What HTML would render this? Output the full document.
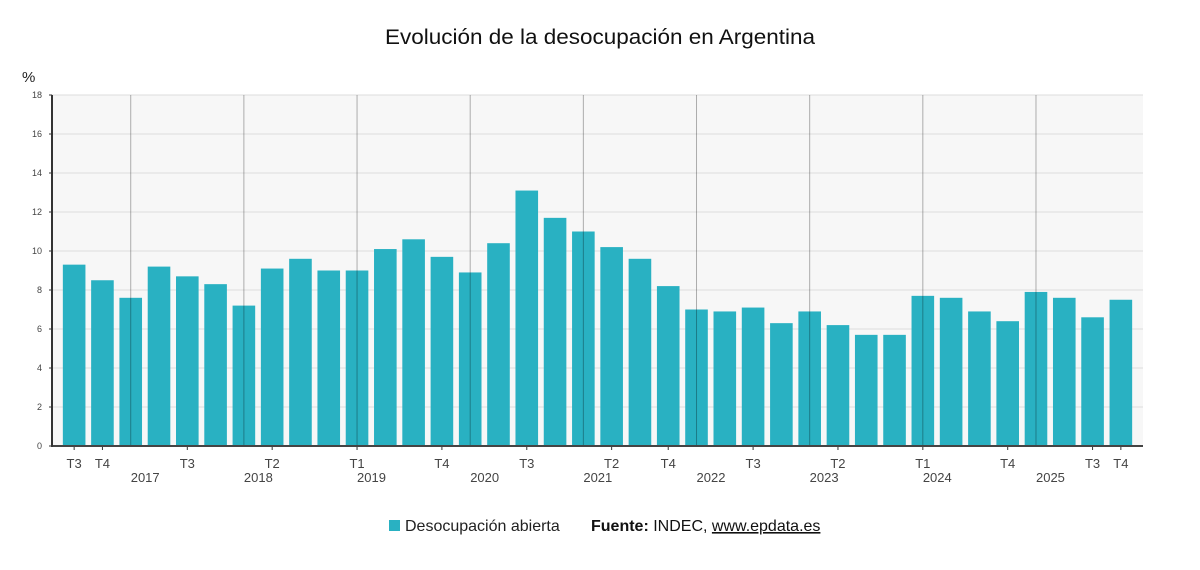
<!DOCTYPE html>
<html><head><meta charset="utf-8"><style>
body{margin:0;background:#fff;width:1200px;height:565px;overflow:hidden;font-family:"Liberation Sans",sans-serif}
</style></head><body>
<svg id="chart" width="1200" height="565" xmlns="http://www.w3.org/2000/svg" font-family="Liberation Sans, sans-serif">
<text x="600" y="44" text-anchor="middle" font-size="21" fill="#111" textLength="430" lengthAdjust="spacingAndGlyphs">Evolución de la desocupación en Argentina</text>
<text x="22" y="82" font-size="15" fill="#222">%</text>
<g id="plot"></g>
<g>
<rect x="389" y="520" width="11" height="11" fill="#29b1c2"/>
<text x="405" y="531" font-size="16" fill="#222">Desocupación abierta</text>
<text x="591" y="531" font-size="16" fill="#111"><tspan font-weight="bold">Fuente:</tspan> INDEC, <tspan text-decoration="underline">www.epdata.es</tspan></text>
</g>
</svg>
<script>
const categories=["2016 T3","2016 T4","2017 T1","2017 T2","2017 T3","2017 T4","2018 T1","2018 T2","2018 T3","2018 T4","2019 T1","2019 T2","2019 T3","2019 T4","2020 T1","2020 T2","2020 T3","2020 T4","2021 T1","2021 T2","2021 T3","2021 T4","2022 T1","2022 T2","2022 T3","2022 T4","2023 T1","2023 T2","2023 T3","2023 T4","2024 T1","2024 T2","2024 T3","2024 T4","2025 T1","2025 T2","2025 T3","2025 T4"];
const values=[9.3,8.5,7.6,9.2,8.7,8.3,7.2,9.1,9.6,9.0,9.0,10.1,10.6,9.7,8.9,10.4,13.1,11.7,11.0,10.2,9.6,8.2,7.0,6.9,7.1,6.3,6.9,6.2,5.7,5.7,7.7,7.6,6.9,6.4,7.9,7.6,6.6,7.5];
const yTicks=[0,2,4,6,8,10,12,14,16,18];
const quarterLabelIdx=[0,1,4,7,10,13,16,19,21,24,27,30,33,36,37];
const years=["2017","2018","2019","2020","2021","2022","2023","2024","2025"];
const NS="http://www.w3.org/2000/svg";
const g=document.getElementById('plot');
const L=52,R=1143,T=95,B=446,yMax=18;
const step=(R-L-16)/categories.length;
const x=i=>L+8+step*(i+0.5);
const y=v=>B-(v/yMax)*(B-T);
function mk(t,a){const e=document.createElementNS(NS,t);for(const k in a)e.setAttribute(k,a[k]);g.appendChild(e);return e;}
let e=mk('rect',{x:L,y:T,width:R-L,height:B-T,fill:'#f7f7f7'});


yTicks.forEach(v=>{
 let l=mk('line',{x1:L,x2:R,y1:y(v),y2:y(v),stroke:'#dedede','stroke-width':1});
 
 
 let t=mk('text',{x:L-10,y:y(v)+3,'text-anchor':'end','font-size':9,fill:'#444'});t.textContent=v;
 
 
 mk('line',{x1:L-3,x2:L,y1:y(v),y2:y(v),stroke:'#333'});
});
values.forEach((v,i)=>{
 let r=mk('rect',{x:x(i)-11.3,y:y(v),width:22.6,height:B-y(v),fill:'#29b1c2'});
 
 
});
years.forEach((yr,k)=>{
 const i=2+4*k;
 let l=mk('line',{x1:x(i),x2:x(i),y1:T,y2:B,stroke:'rgba(0,0,0,0.3)','stroke-width':1});
 
 
 let t=mk('text',{x:x(i),y:482,'font-size':13,fill:'#444'});t.textContent=yr;
 
 
});
quarterLabelIdx.forEach(i=>{
 mk('line',{x1:x(i),x2:x(i),y1:B,y2:B+4,stroke:'#333'});
 let t=mk('text',{x:x(i),y:468,'text-anchor':'middle','font-size':13,fill:'#444'});t.textContent=categories[i].split(' ')[1];
 
 
});
e=mk('line',{x1:L,x2:R,y1:B,y2:B,stroke:'#444','stroke-width':2});


e=mk('line',{x1:L,x2:L,y1:T,y2:B+1,stroke:'#333','stroke-width':2});


</script>
</body></html>
